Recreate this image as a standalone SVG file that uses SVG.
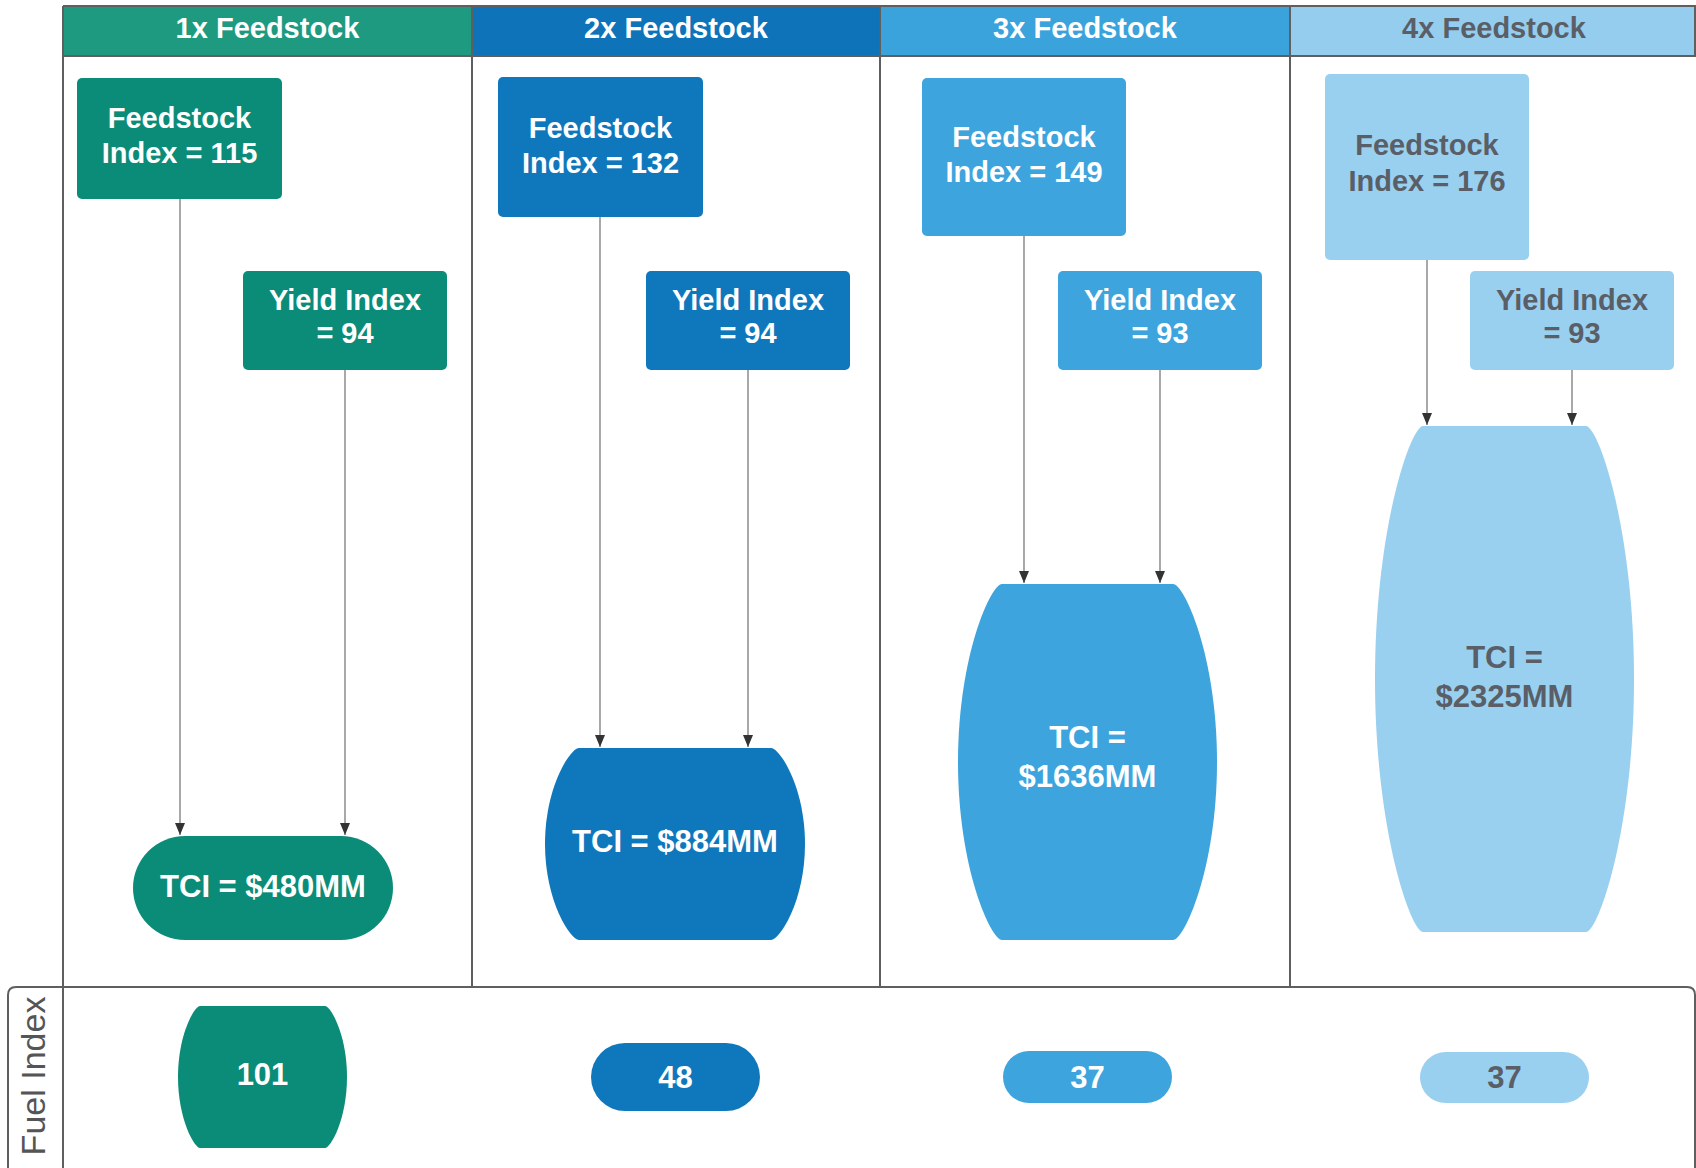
<svg xmlns="http://www.w3.org/2000/svg" width="1696" height="1168" viewBox="0 0 1696 1168">
<style>
text{font-family:"Liberation Sans",Arial,sans-serif;font-weight:bold;text-anchor:middle}
.hd{font-size:29px}
.nt{font-size:29px}
.bt{font-size:31px}
.w{fill:#ffffff}
.g{fill:#5a5e66}
.c1{fill:#0b8c78}
.c2{fill:#0f78bc}
.c3{fill:#3da4dd}
.c4{fill:#99d0f0}
.lane{stroke:#5f5f5f;stroke-width:2;fill:none}
.conn{stroke:#7a7a7a;stroke-width:1.3;fill:none;marker-end:url(#ah)}
</style>
<defs>
<marker id="ah" markerUnits="userSpaceOnUse" markerWidth="12" markerHeight="10" refX="12" refY="5" orient="auto">
<path d="M0,0 L12,5 L0,10 Z" fill="#333333"/>
</marker>
</defs>
<rect width="1696" height="1168" fill="#ffffff"/>
<g id="pool">
<rect x="63" y="6" width="409" height="50" fill="#1e9a80"/>
<rect x="472" y="6" width="408" height="50" fill="#0e73b8"/>
<rect x="880" y="6" width="410" height="50" fill="#3aa3dc"/>
<rect x="1290" y="6" width="406" height="50" fill="#95cdee"/>
<path class="lane" d="M63,6 H1695 V56 M63,56 H1696 M63,6 V1168 M472,6 V987 M880,6 V987 M1290,6 V987"/>
<path class="lane" d="M8,1168 V995 Q8,987 16,987 H1687 Q1695,987 1695,995 V1168"/>
<text class="hd w" x="267.5" y="37.5">1x Feedstock</text>
<text class="hd w" x="676" y="37.5">2x Feedstock</text>
<text class="hd w" x="1085" y="37.5">3x Feedstock</text>
<text class="hd g" x="1494" y="37.5">4x Feedstock</text>
<text x="0" y="0" transform="translate(45,1076) rotate(-90)" style="font-weight:normal;font-size:34px" fill="#555555">Fuel Index</text>
</g>
<g id="connectors">
<line class="conn" x1="180" y1="199" x2="180" y2="835"/>
<line class="conn" x1="345" y1="370" x2="345" y2="835"/>
<line class="conn" x1="600" y1="217" x2="600" y2="747"/>
<line class="conn" x1="748" y1="370" x2="748" y2="747"/>
<line class="conn" x1="1024" y1="236" x2="1024" y2="583"/>
<line class="conn" x1="1160" y1="370" x2="1160" y2="583"/>
<line class="conn" x1="1427" y1="260" x2="1427" y2="425"/>
<line class="conn" x1="1572" y1="370" x2="1572" y2="425"/>
</g>
<g id="feed1"><rect class="c1" x="77" y="78" width="205" height="121" rx="5"/><text class="nt w" x="179.5" y="128">Feedstock</text><text class="nt w" x="179.5" y="163">Index = 115</text></g>
<g id="yield1"><rect class="c1" x="243" y="271" width="204" height="99" rx="5"/><text class="nt w" x="345" y="310">Yield Index</text><text class="nt w" x="345" y="343">= 94</text></g>
<g id="tci1"><rect class="c1" x="133" y="836" width="260" height="104" rx="52"/><text class="bt w" x="263" y="897">TCI = $480MM</text></g>
<g id="fuel1"><path class="c1" d="M200,1006 H325 C330.5,1006 347,1034.4 347,1077 C347,1119.6 330.5,1148 325,1148 H200 C194.5,1148 178,1119.6 178,1077 C178,1034.4 194.5,1006 200,1006 Z"/><text class="bt w" x="262.5" y="1085">101</text></g>

<g id="feed2"><rect class="c2" x="498" y="77" width="205" height="140" rx="5"/><text class="nt w" x="600.5" y="138">Feedstock</text><text class="nt w" x="600.5" y="173">Index = 132</text></g>
<g id="yield2"><rect class="c2" x="646" y="271" width="204" height="99" rx="5"/><text class="nt w" x="748" y="310">Yield Index</text><text class="nt w" x="748" y="343">= 94</text></g>
<g id="tci2"><path class="c2" d="M579,748 H771 C779.5,748 805,786.4 805,844 C805,901.6 779.5,940 771,940 H579 C570.5,940 545,901.6 545,844 C545,786.4 570.5,748 579,748 Z"/><text class="bt w" x="675" y="852">TCI = $884MM</text></g>
<g id="fuel2"><rect class="c2" x="591" y="1043" width="169" height="68" rx="34"/><text class="bt w" x="675.5" y="1088">48</text></g>

<g id="feed3"><rect class="c3" x="922" y="78" width="204" height="158" rx="5"/><text class="nt w" x="1024" y="147">Feedstock</text><text class="nt w" x="1024" y="182">Index = 149</text></g>
<g id="yield3"><rect class="c3" x="1058" y="271" width="204" height="99" rx="5"/><text class="nt w" x="1160" y="310">Yield Index</text><text class="nt w" x="1160" y="343">= 93</text></g>
<g id="tci3"><path class="c3" d="M1002,584 H1173 C1184,584 1217,655.2 1217,762 C1217,868.8 1184,940 1173,940 H1002 C991,940 958,868.8 958,762 C958,655.2 991,584 1002,584 Z"/><text class="bt w" x="1087.5" y="748">TCI =</text><text class="bt w" x="1087.5" y="787">$1636MM</text></g>
<g id="fuel3"><rect class="c3" x="1003" y="1051" width="169" height="52" rx="26"/><text class="bt w" x="1087.5" y="1088">37</text></g>

<g id="feed4"><rect class="c4" x="1325" y="74" width="204" height="186" rx="5"/><text class="nt g" x="1427" y="155">Feedstock</text><text class="nt g" x="1427" y="191">Index = 176</text></g>
<g id="yield4"><rect class="c4" x="1470" y="271" width="204" height="99" rx="5"/><text class="nt g" x="1572" y="310">Yield Index</text><text class="nt g" x="1572" y="343">= 93</text></g>
<g id="tci4"><path class="c4" d="M1423,426 H1586 C1598,426 1634,527.2 1634,679 C1634,830.8 1598,932 1586,932 H1423 C1411,932 1375,830.8 1375,679 C1375,527.2 1411,426 1423,426 Z"/><text class="bt g" x="1504.5" y="668">TCI =</text><text class="bt g" x="1504.5" y="707">$2325MM</text></g>
<g id="fuel4"><rect class="c4" x="1420" y="1052" width="169" height="51" rx="25.5"/><text class="bt g" x="1504.5" y="1088">37</text></g>
</svg>
